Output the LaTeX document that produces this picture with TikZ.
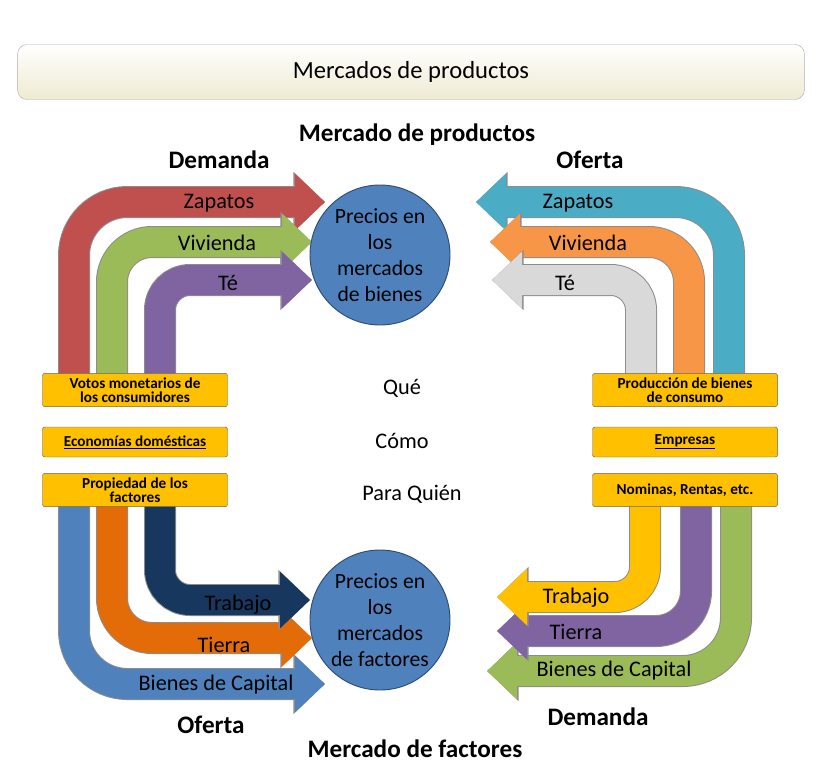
\documentclass[tikz,border=0pt]{standalone}
\usepackage{fontspec}
\setmainfont{Carlito}
\usetikzlibrary{arrows.meta,calc}
\definecolor{myred}{HTML}{C0504D}
\definecolor{mygreen}{HTML}{9BBB59}
\definecolor{mypurple}{HTML}{8064A2}
\definecolor{myteal}{HTML}{4BACC6}
\definecolor{myorange}{HTML}{F79646}
\definecolor{myblue}{HTML}{4F81BD}
\definecolor{mydkorange}{HTML}{E36C09}
\definecolor{mynavy}{HTML}{17375E}
\definecolor{myyellow}{HTML}{FFC000}
\definecolor{mycream}{HTML}{EEEAD2}
\begin{document}
\begin{tikzpicture}[x=0.03cm,y=-0.03cm]

\tikzset{
  band/.style={line width=0.9cm,-{Triangle[width=1.65cm,length=0.9cm]},
    preaction={draw=black!45,line width=0.96cm,-{Triangle[width=1.75cm,length=0.95cm]}}},
  box/.style={draw=black!60,fill=myyellow,rounded corners=2pt,minimum width=5.55cm,
    minimum height=#1,align=center,font=\fontsize{13}{12}\selectfont\bfseries,inner sep=0pt},
  market/.style={circle,draw=myblue!60!black,thick,fill=myblue,minimum size=4.2cm,
    align=center,font=\fontsize{18.5}{22}\selectfont,inner sep=0pt},
  lbl/.style={font=\fontsize{19}{21}\selectfont},
  head/.style={font=\fontsize{21.5}{24}\selectfont\bfseries}
}

\useasboundingbox (0,0) rectangle (820,777);

% banner
\node[draw=black!30,rounded corners=8pt,top color=white,bottom color=mycream,
  minimum width=23.6cm,minimum height=1.65cm,font=\fontsize{21}{24}\selectfont] (ban) at (411,72)
  {Mercados de productos};

% headings
\node[head] (mp) at (417,135) {Mercado de productos};
\node[head] (dem1) at (219,160) {Demanda};
\node[head] (of1) at (590,160) {Oferta};
\node[head] (of2) at (211,725) {Oferta};
\node[head] (dem2) at (598,717) {Demanda};
\node[head] (mf) at (415,749) {Mercado de factores};

% start / end points of the bands
\coordinate (a1) at (74,374);  \coordinate (b1) at (325,202);
\coordinate (a2) at (112,374); \coordinate (b2) at (312,242);
\coordinate (a3) at (160,374); \coordinate (b3) at (312,280);
\coordinate (a4) at (729,374); \coordinate (b4) at (476,202);
\coordinate (a5) at (689,374); \coordinate (b5) at (490,242);
\coordinate (a6) at (641,374); \coordinate (b6) at (492,280);
\coordinate (c1) at (74,506);  \coordinate (d1) at (325,684);
\coordinate (c2) at (112,506); \coordinate (d2) at (312,638);
\coordinate (c3) at (160,506); \coordinate (d3) at (310,600);
\coordinate (c4) at (736,506); \coordinate (d4) at (487,671);
\coordinate (c5) at (696,506); \coordinate (d5) at (497,631);
\coordinate (c6) at (645,506); \coordinate (d6) at (497,597);

% bands, product market
\draw[band,myred,rounded corners=1.6cm] (a1) |- (b1);
\draw[band,mygreen,rounded corners=1.2cm] (a2) |- (b2);
\draw[band,mypurple,rounded corners=0.9cm] (a3) |- (b3);
\draw[band,myteal,rounded corners=1.6cm] (a4) |- (b4);
\draw[band,myorange,rounded corners=1.2cm] (a5) |- (b5);
\draw[band,black!15,rounded corners=0.9cm] (a6) |- (b6);

% bands, factor market
\draw[band,myblue,rounded corners=1.6cm] (c1) |- (d1);
\draw[band,mydkorange,rounded corners=1.2cm] (c2) |- (d2);
\draw[band,mynavy,rounded corners=0.9cm] (c3) |- (d3);
\draw[band,mygreen,rounded corners=1.6cm] (c4) |- (d4);
\draw[band,mypurple,rounded corners=1.2cm] (c5) |- (d5);
\draw[band,myyellow,rounded corners=0.9cm] (c6) |- (d6);

% band labels
\node[lbl] (z1) at (219,203) {Zapatos};
\node[lbl] (v1) at (217,243) {Vivienda};
\node[lbl] (t1) at (228,283) {Té};
\node[lbl] (z2) at (578,203) {Zapatos};
\node[lbl] (v2) at (588,243) {Vivienda};
\node[lbl] (t2) at (565,283) {Té};
\node[lbl] (tr1) at (238,605) {Trabajo};
\node[lbl] (ti1) at (224,645) {Tierra};
\node[lbl] (bc1) at (216,685) {Bienes de Capital};
\node[lbl] (tr2) at (576,598) {Trabajo};
\node[lbl] (ti2) at (576,632) {Tierra};
\node[lbl] (bc2) at (614,671) {Bienes de Capital};

% boxes
\node[box=1cm] (vot) at (135,390) {Votos monetarios de\\los consumidores};
\node[box=0.9cm] (eco) at (135,442) {\underline{Economías domésticas}};
\node[box=1cm] (pro) at (135,490) {Propiedad de los\\factores};
\node[box=1cm] (bie) at (685,390) {Producción de bienes\\de consumo};
\node[box=0.9cm] (emp) at (685,442) {\underline{Empresas}};
\node[box=1cm] (nom) at (685,490) {Nominas, Rentas, etc.};

% middle
\node[lbl] (que) at (402,388) {Qué};
\node[lbl] (como) at (402,441) {Cómo};
\node[lbl] (quien) at (412,494) {Para Quién};

% markets
\node[market] (pb) at (380,255) {Precios en\\los\\mercados\\de bienes};
\node[market] (pf) at (380,620) {Precios en\\los\\mercados\\de factores};

\end{tikzpicture}
\end{document}
